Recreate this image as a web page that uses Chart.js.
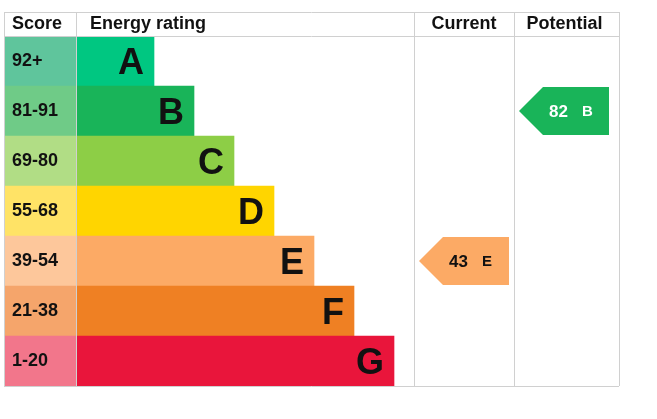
<!DOCTYPE html>
<html><head><meta charset="utf-8">
<script src="https://cdn.jsdelivr.net/npm/chart.js@4"></script>
<style>html,body{margin:0;padding:0;background:#fff}#w{width:657px;height:419px}</style>
</head><body><div id="w"><canvas id="c"></canvas></div>
<script>
const bands = ['A','B','C','D','E','F','G'];
const scores = ['92+','81-91','69-80','55-68','39-54','21-38','1-20'];
const barLengths = [78,118,158,198,238,278,318];
const bandColors = ['#00c781','#19b459','#8dce46','#ffd500','#fcaa65','#ef8023','#e9153b'];
const scoreColors = ['#5fc59c','#6fcb87','#b1dd85','#ffe366','#fdc79b','#f5a56b','#f2768b'];
const currentValue = 43, currentBand = 'E';
const potentialValue = 82, potentialBand = 'B';
const scoreW = 72, curStart = 410, potStart = 510, totalW = 615;

const overlay = {
  id:'overlay',
  afterDatasetsDraw(chart){
    const {ctx, scales:{x,y}, chartArea:a} = chart;
    const F = 'Liberation Sans, Arial, sans-serif';
    const rowH = y.getPixelForValue(1)-y.getPixelForValue(0);
    ctx.save();
    // grid
    ctx.strokeStyle='#d0d0d0'; ctx.lineWidth=1;
    const top = a.top-24;
    ctx.beginPath();
    ctx.moveTo(a.left,top+0.5); ctx.lineTo(a.right,top+0.5);
    ctx.moveTo(a.left,a.top+0.5); ctx.lineTo(a.right,a.top+0.5);
    ctx.moveTo(a.left,a.bottom+0.5); ctx.lineTo(a.right,a.bottom+0.5);
    [0,scoreW,curStart,potStart,totalW].forEach(v=>{const px=Math.round(x.getPixelForValue(v))+0.5;ctx.moveTo(px,top);ctx.lineTo(px,a.bottom);});
    ctx.stroke();
    // headers
    ctx.fillStyle='#111'; ctx.font='bold 18px '+F; ctx.textBaseline='middle';
    const hy = top+12;
    ctx.textAlign='left';
    ctx.fillText('Score', x.getPixelForValue(0)+8, hy);
    ctx.fillText('Energy rating', x.getPixelForValue(scoreW)+14, hy);
    ctx.textAlign='center';
    ctx.fillText('Current', x.getPixelForValue((curStart+potStart)/2), hy);
    ctx.fillText('Potential', x.getPixelForValue((potStart+totalW)/2)-2, hy);
    // labels
    bands.forEach((b,i)=>{
      const cy = y.getPixelForValue(i);
      ctx.textAlign='left'; ctx.font='bold 18px '+F; ctx.fillStyle='#111';
      ctx.fillText(scores[i], x.getPixelForValue(0)+8, cy);
      ctx.textAlign='right'; ctx.font='bold 36px '+F;
      ctx.fillText(b, x.getPixelForValue(scoreW+barLengths[i])-10, cy+3);
    });
    function arrow(val, band, start){
      const i = bands.indexOf(band);
      const cy = y.getPixelForValue(i), h = rowH-2;
      const x0 = x.getPixelForValue(start+5), x1 = x.getPixelForValue(start+95);
      ctx.fillStyle = bandColors[i];
      ctx.beginPath();
      ctx.moveTo(x0, cy); ctx.lineTo(x0+h/2, cy-h/2); ctx.lineTo(x1, cy-h/2);
      ctx.lineTo(x1, cy+h/2); ctx.lineTo(x0+h/2, cy+h/2); ctx.closePath(); ctx.fill();
      ctx.fillStyle = (band==='B'||band==='A'||band==='G')?'#fff':'#111';
      ctx.textAlign='left'; ctx.font='bold 17px '+F;
      ctx.fillText(val+'', x0+30, cy+1);
      ctx.font='bold 15px '+F;
      ctx.fillText(band, x0+63, cy+1);
    }
    arrow(currentValue, currentBand, curStart);
    arrow(potentialValue, potentialBand, potStart);
    ctx.restore();
  }
};

new Chart(document.getElementById('c'), {
  type:'bar',
  data:{ labels: bands, datasets:[
    {data: bands.map(()=>[0,scoreW]), backgroundColor: scoreColors, barPercentage:1, categoryPercentage:1, grouped:false},
    {data: barLengths.map(l=>[scoreW,scoreW+l]), backgroundColor: bandColors, barPercentage:1, categoryPercentage:1, grouped:false}
  ]},
  options:{
    indexAxis:'y', responsive:true, maintainAspectRatio:false, animation:false,
    layout:{padding:{left:4,top:36,right:38,bottom:33}},
    plugins:{legend:{display:false}, tooltip:{enabled:false}},
    scales:{
      x:{type:'linear',min:0,max:totalW,display:false},
      y:{display:false, offset:true}
    }
  },
  plugins:[overlay]
});
</script></body></html>
